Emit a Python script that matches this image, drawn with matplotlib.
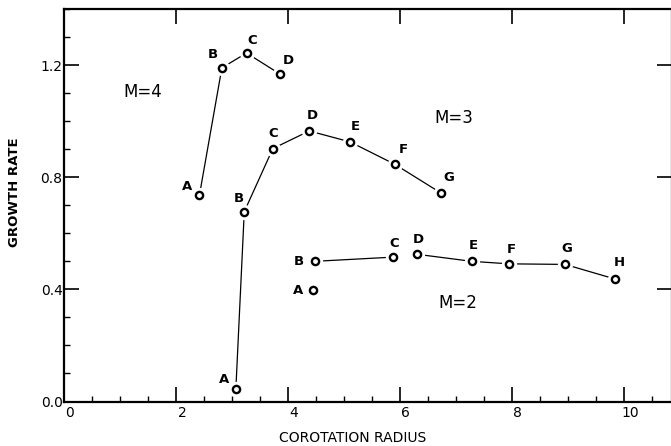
import numpy as np
import matplotlib.pyplot as plt
import matplotlib.transforms as mtransforms
from matplotlib.ticker import MultipleLocator

# %% data
m4_x = [2.42, 2.82, 3.26, 3.85]
m4_y = [0.737, 1.190, 1.243, 1.169]
m4_lab = ["A", "B", "C", "D"]

m3_x = [3.07, 3.22, 3.73, 4.38, 5.11, 5.91, 6.73]
m3_y = [0.046, 0.677, 0.902, 0.965, 0.926, 0.846, 0.744]
m3_lab = ["A", "B", "C", "D", "E", "F", "G"]

m2_x = [4.45, 4.48, 5.88, 6.31, 7.28, 7.95, 8.95, 9.84]
m2_y = [0.396, 0.500, 0.515, 0.525, 0.500, 0.491, 0.489, 0.437]
m2_lab = ["A", "B", "C", "D", "E", "F", "G", "H"]

x_ticks = [0, 2, 4, 6, 8, 10]
y_ticks = [0.0, 0.4, 0.8, 1.2]

# label offsets (pixels) for each point letter
m4_off = [(-12, 8), (-9, 13), (6, 13), (9, 13)]
m3_off = [(-12, 9), (-5, 13), (0, 15), (3, 15), (5, 15), (8, 15), (8, 15)]
m2_off = [(-15, 0), (-16, 0), (1, 14), (1, 15), (2, 16), (2, 14), (2, 16), (4, 16)]

plt.rcParams['font.family'] = ['DejaVu Sans']
fig = plt.figure(figsize=(6.71, 4.46), dpi=100)
ax = fig.add_axes([64 / 671, 44.5 / 446, 608 / 671, 392.5 / 446])

def draw(xs, ys, segs):
    # line pieces, then a white halo to open a gap, then the open circle
    for i, j in segs:
        ax.plot(xs[i:j], ys[i:j], color='black', lw=0.9, zorder=1)
    ax.plot(xs, ys, ls='none', marker='o', ms=11, mfc='white', mec='none', zorder=2)
    ax.plot(xs, ys, ls='none', marker='o', ms=5.2, mfc='white', mec='black', mew=1.7, zorder=3)

def letters(xs, ys, labs, offs):
    for x, y, s, (dx, dy) in zip(xs, ys, labs, offs):
        ax.annotate(s, (x, y), xytext=(dx, dy), textcoords='offset pixels',
                    ha='center', va='center', fontsize=9.5, fontweight='bold', zorder=4)

draw(m4_x, m4_y, [(0, 4)])
draw(m3_x, m3_y, [(0, 7)])
draw(m2_x, m2_y, [(1, 3), (3, 8)])
letters(m4_x, m4_y, m4_lab, m4_off)
letters(m3_x, m3_y, m3_lab, m3_off)
letters(m2_x, m2_y, m2_lab, m2_off)

ax.text(1.41, 1.103, "M=4", fontsize=12, ha='center', va='center')
ax.text(6.96, 1.01, "M=3", fontsize=12, ha='center', va='center')
ax.text(7.04, 0.351, "M=2", fontsize=12, ha='center', va='center')

ax.set_xlim(0, 10.86)
ax.set_ylim(0, 1.4)
ax.set_xticks(x_ticks)
ax.set_xticklabels([str(v) for v in x_ticks])
ax.set_yticks(y_ticks)
ax.set_yticklabels(["%.1f" % v for v in y_ticks])
ax.xaxis.set_minor_locator(MultipleLocator(0.5))
ax.yaxis.set_minor_locator(MultipleLocator(0.1))
ax.tick_params(which='major', direction='in', length=11, width=1.2, labelsize=10,
               top=True, right=True, pad=3)
ax.tick_params(which='minor', direction='in', length=4, width=1.0,
               top=False, right=False)
ax.tick_params(axis='y', which='major', pad=1)
for s in ax.spines.values():
    s.set_linewidth(1.6)

# x tick labels sit a little right of their ticks in the original
shift = mtransforms.ScaledTranslation(0.06, 0, fig.dpi_scale_trans)
for lab in ax.get_xticklabels():
    lab.set_transform(lab.get_transform() + shift)

fig.text(15 / 671, 1 - 192 / 446, "GROWTH RATE", rotation=90, ha='center', va='center',
         fontsize=9.5, fontweight='bold')
fig.text(353 / 671, 1 - 438 / 446, "COROTATION RADIUS", ha='center', va='center',
         fontsize=10)

fig.savefig("out.png", dpi=100)
